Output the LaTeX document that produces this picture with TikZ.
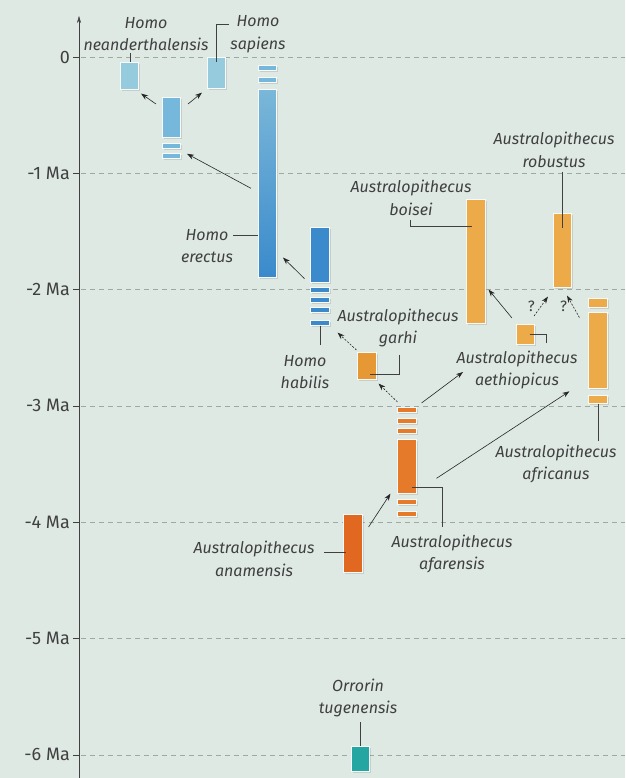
\documentclass[tikz,border=0pt]{standalone}
\usepackage{fontspec}
\setmainfont{Fira Sans}
\usepackage{xcolor}
\usepackage{tikz}
\usetikzlibrary{positioning, calc, arrows.meta, shadows}

\definecolor{bgcol}{RGB}{222,233,227}
\definecolor{homolt}{RGB}{150,203,222}
\definecolor{homomid}{RGB}{118,183,220}
\definecolor{homodk}{RGB}{58,138,204}
\definecolor{gold}{RGB}{236,170,72}
\definecolor{amber}{RGB}{230,152,52}
\definecolor{rust}{RGB}{228,122,42}
\definecolor{rustdk}{RGB}{224,104,32}
\definecolor{tealbar}{RGB}{38,166,162}
\definecolor{inkgray}{RGB}{64,64,64}
\definecolor{gridgray}{RGB}{160,168,164}

\begin{document}
\begin{tikzpicture}[x=1pt, y=-1pt,
        bar/.style={rectangle, draw=white!75!bgcol, line width=0.6pt, minimum width=18.5pt, inner sep=0pt, anchor=north, drop shadow={opacity=0.25, shadow xshift=1.5pt, shadow yshift=-1.5pt}},
        stripe/.style={bar, minimum height=5pt},
        label/.style={font=\itshape\fontsize{16}{22.5}\selectfont, align=center, text=inkgray, inner sep=0pt},
        qmark/.style={left=6pt, inner sep=0pt, font=\fontsize{15}{16}\selectfont, text=inkgray},
        line/.style={draw, -{Stealth[length=7pt, width=5pt]}, semithick, black!85},
        maybe/.style={line, dash pattern=on 2pt off 1.5pt},
        lead/.style={draw, inkgray, thin},
        grid/.style={draw=gridgray, dash pattern=on 5pt off 4pt, thin}]

    \useasboundingbox (0,0) rectangle (625,778);
    \fill [bgcol] (0,0) rectangle (625,778);

    % Time axis
    \foreach \lab [count=\i from 0] in {0,-1 Ma,-2 Ma,-3 Ma,-4 Ma,-5 Ma,-6 Ma} {
        \pgfmathsetmacro{\yy}{57+116.3*\i}
        \draw [grid] (81,\yy) -- (625,\yy);
        \draw [inkgray] (73,\yy) -- (79,\yy);
        \node [anchor=east, inner sep=1pt, text=inkgray, font=\fontsize{18}{20}\selectfont] (tick\i) at (71,\yy) {\lab};
    }
    \draw [inkgray, -{Stealth[length=7pt, width=4pt]}] (79,778) -- (79,16);

    % Homo
    \node [bar, minimum height=27pt, fill=homolt] (nea) at (129.5,62) {};
    \node [bar, minimum height=31pt, fill=homolt] (sap) at (216.5,57) {};
    \node [bar, minimum height=40pt, fill=homomid] (mid) at (171.5,97) {};
    \node [stripe, fill=homomid] (mid1) at (171.5,143) {};
    \node [stripe, fill=homomid] (mid2) at (171.5,153) {};
    \node [stripe, fill=homomid] (ere1) at (267.5,65) {};
    \node [stripe, fill=homomid] (ere2) at (267.5,77) {};
    \node [bar, minimum height=188pt, top color=homolt!70!homodk, bottom color=homodk] (ere) at (267.5,89) {};
    \node [bar, minimum height=55pt, fill=homodk] (hab) at (320,227) {};
    \foreach \y [count=\k] in {287,297,307,320}
        \node [stripe, fill=homodk] (hab\k) at (320,\y) {};

    % Australopithecus and Orrorin
    \node [bar, minimum height=27pt, fill=amber] (gar) at (367,352) {};
    \foreach \y [count=\k] in {407,418,428}
        \node [stripe, fill=rust] (afa\k) at (407,\y) {};
    \node [bar, minimum height=54pt, fill=rust] (afab) at (407,439) {};
    \foreach \y [count=\k from 4] in {499,511}
        \node [stripe, fill=rust] (afa\k) at (407,\y) {};
    \node [bar, minimum height=58pt, fill=rustdk] (ana) at (353,514) {};
    \node [bar, minimum height=124pt, fill=gold] (boi) at (476,199) {};
    \node [bar, minimum height=20pt, fill=gold] (aet) at (525.5,324) {};
    \node [bar, minimum height=74pt, fill=gold] (rob) at (562.5,213) {};
    \node [bar, minimum height=9pt, fill=gold] (afr1) at (598,298) {};
    \node [bar, minimum height=76pt, fill=gold] (afrb) at (598,312) {};
    \node [bar, minimum height=8pt, fill=gold] (afr2) at (598,395) {};
    \node [bar, minimum height=25pt, fill=tealbar] (orr) at (360.5,746) {};

    % Names
    \node [label] (neal) at (146,34) {Homo\\neanderthalensis};
    \node [label] (sapl) at (258,34) {Homo\\sapiens};
    \node [label] (erel) at (207,246) {Homo\\erectus};
    \node [label] (habl) at (305,372) {Homo\\habilis};
    \node [label] (garl) at (398,328) {Australopithecus\\garhi};
    \node [label] (afal) at (452,554) {Australopithecus\\afarensis};
    \node [label] (anal) at (254,559) {Australopithecus\\anamensis};
    \node [label] (boil) at (411,198) {Australopithecus\\boisei};
    \node [label] (aetl) at (517,370) {Australopithecus\\aethiopicus};
    \node [label] (robl) at (554,150) {Australopithecus\\robustus};
    \node [label] (afrl) at (556,464) {Australopithecus\\africanus};
    \node [label] (orrl) at (358,698) {Orrorin\\tugenensis};

    % Lines to names
    \coordinate (neain) at (130,53);
    \coordinate (sapin) at (229,24);
    \coordinate (erein) at (233,235);
    \coordinate (habin) at (320,345);
    \coordinate (garin) at (399,355);
    \coordinate (afain) at (442,527);
    \coordinate (anain) at (324,552);
    \coordinate (boiin) at (410,220);
    \coordinate (aetin) at (546,343);
    \coordinate (robin) at (562.5,172);
    \coordinate (afrin) at (598,441);
    \coordinate (orrin) at (360.5,722);
    \draw [lead] (neain) -- (neain |- nea.north);
    \draw [lead] ($(sap.north)+(0,5)$) |- (sapin);
    \draw [lead] (erein) -- (erein -| ere.west);
    \draw [lead] (hab4.south) -- (habin);
    \draw [lead] ($(gar.center)+(3,8)$) -| (garin);
    \draw [lead] ($(afab.south)+(5,-6)$) -| (afain);
    \draw [lead] (anain) -- ($(anain -| ana.west)+(3,0)$);
    \draw [lead] (boiin) |- ($(boi.north)+(-4,27)$);
    \draw [lead] ($(aet.center)+(4,0)$) -| (aetin);
    \draw [lead] (robin) -- ($(rob.north)+(0,15)$);
    \draw [lead] (afr2.south) -- (afrin);
    \draw [lead] (orrin) -- (orr.north);

    % Paths
    \coordinate (aethead) at (463,372);
    \path [line] ($(mid.north west)+(-6,7)$) -- ($(nea.south east)+(2,4)$);
    \path [line] ($(mid.north east)+(7,7)$) -- ($(sap.south west)+(-5,4)$);
    \path [line] ($(ere.west)+(-7,5)$) -- ($(mid2.east)+(6,-2)$);
    \path [line] ($(hab.south west)+(-6,-4)$) -- ($(ere.south east)+(6,-20)$);
    \path [maybe] ($(gar.north west)+(-1,-2)$) -- ($(hab4.south east)+(8,7)$);
    \path [maybe] ($(afa1.north west)+(0,-5)$) -- ($(gar.south east)+(2,4)$);
    \path [line] ($(afa1.north east)+(5,-4)$) -- (aethead);
    \path [line] ($(afab.east)+(20,12)$) -- ($(afr2.west)+(-19,-8)$);
    \path [line] ($(ana.north east)+(6,13)$) -- ($(afab.south west)+(-7,0)$);
    \path [line] ($(aet.north west)+(-4,-6)$) -- ($(boi.south east)+(3,-34)$);
    \path [maybe] ($(aet.north east)+(-1,-8)$) -- node [qmark] {?} ($(rob.south west)+(-5,9)$);
    \path [maybe] ($(afr1.south west)+(-9,10)$) -- node [qmark] {?} ($(rob.south east)+(-5,8)$);

\end{tikzpicture}
\end{document}
